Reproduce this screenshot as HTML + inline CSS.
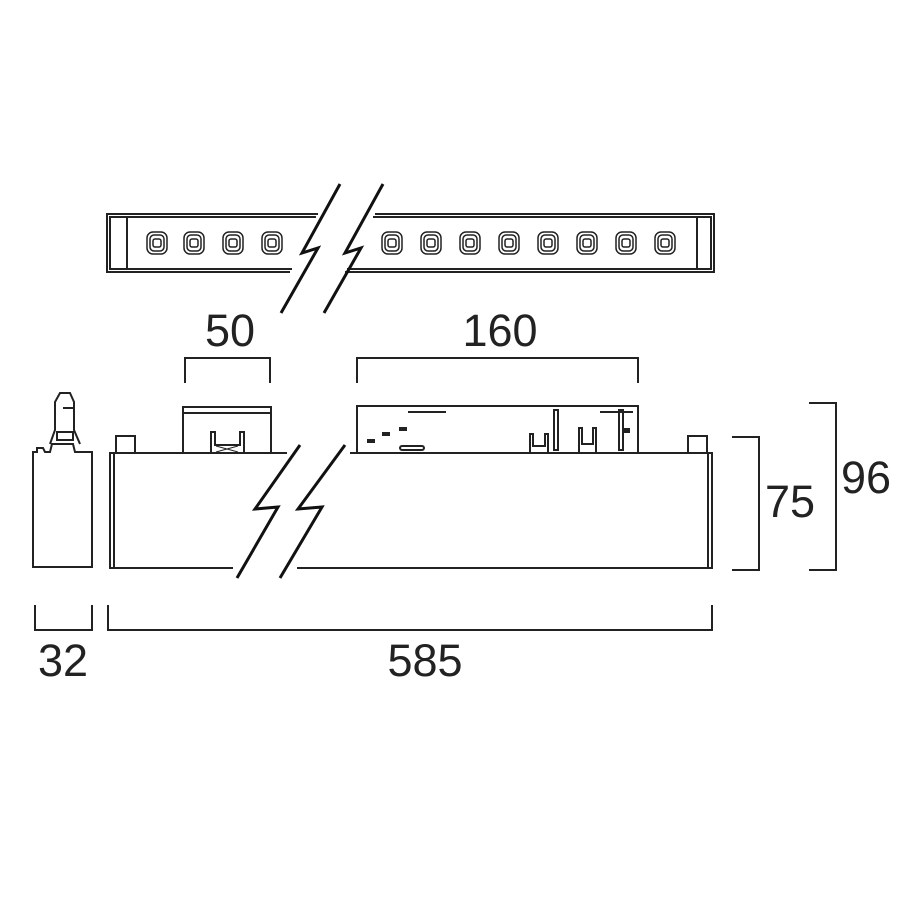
<!DOCTYPE html>
<html><head><style>
html,body{margin:0;padding:0;background:#fff;}
svg{display:block;}
text{font-family:"Liberation Sans",Arial,sans-serif;font-size:45px;fill:#222;}
</style></head><body>
<svg width="900" height="900" viewBox="0 0 900 900" xmlns="http://www.w3.org/2000/svg">
<defs>
<g id="led" fill="none" stroke="#222" stroke-width="1.5">
<rect x="-10" y="-11" width="20" height="22" rx="6"/>
<rect x="-7" y="-8" width="14" height="16" rx="4"/>
<rect x="-4" y="-4" width="8" height="8" rx="2"/>
</g>
</defs>
<g fill="none" stroke="#222" stroke-width="2">
<path d="M318,214 H107 V272 H290"/>
<path d="M316,217 H110 V269 H292"/>
<line x1="127" y1="217" x2="127" y2="269"/>
<path d="M375,214 H714 V272 H345"/>
<path d="M373,217 H711 V269 H347"/>
<line x1="697" y1="217" x2="697" y2="269"/>
</g>
<use href="#led" x="157" y="243"/>
<use href="#led" x="194" y="243"/>
<use href="#led" x="233" y="243"/>
<use href="#led" x="272" y="243"/>
<use href="#led" x="392" y="243"/>
<use href="#led" x="431" y="243"/>
<use href="#led" x="470" y="243"/>
<use href="#led" x="509" y="243"/>
<use href="#led" x="548" y="243"/>
<use href="#led" x="587" y="243"/>
<use href="#led" x="626" y="243"/>
<use href="#led" x="665" y="243"/>
<g fill="none" stroke="#111" stroke-width="3">
<path d="M340,184 L302,253 L318,248 L281,313"/>
<path d="M383,184 L345,253 L361,248 L324,313"/>
<path d="M300,445 L255,509 L278,507 L237,578"/>
<path d="M345,445 L298,509 L322,507 L280,578"/>
</g>
<g fill="none" stroke="#222" stroke-width="2">
<path d="M287,453 H110 V568 H233"/>
<line x1="114" y1="453" x2="114" y2="568"/>
<path d="M350,453 H712 V568 H297"/>
<line x1="708" y1="453" x2="708" y2="568"/>
<rect x="116" y="436" width="19" height="17"/>
<rect x="688" y="436" width="19" height="17"/>
<rect x="183" y="407" width="88" height="46"/>
<line x1="183" y1="413" x2="271" y2="413"/>
<path d="M211,453 V432 H215 V445 H240 V432 H244 V453"/>
<path d="M216,446 L238,452 M216,452 L238,446" stroke-width="1"/>
<path d="M357,453 V406 H638 V453"/>
<line x1="408" y1="412" x2="446" y2="412"/>
<line x1="600" y1="412" x2="633" y2="412"/>
<rect x="554" y="410" width="4" height="40"/>
<rect x="619" y="410" width="4" height="40"/>
<rect x="400" y="446" width="24" height="4" rx="2"/>
<path d="M530,453 V434 H533 V446 H545 V434 H548 V453"/>
<path d="M579,453 V428 H582 V444 H593 V428 H596 V453"/>
<path d="M33,452 V567 H92 V452 H75 L73,444 H52 L50,452 L45,452 L43,448 H37 V452 Z"/>
<path d="M50,444 L55,430 V402 L60,393 H70 L74,402 V430 L80,444"/>
<rect x="57" y="432" width="16" height="8"/>
<line x1="63" y1="408" x2="74" y2="408"/>
<path d="M185,383 V358 H270 V383"/>
<path d="M357,383 V358 H638 V383"/>
<path d="M732,437 H759 V570 H732"/>
<path d="M809,403 H836 V570 H809"/>
<path d="M35,605 V630 H92 V605"/>
<path d="M108,605 V630 H712 V605"/>
</g>
<g fill="#222">
<rect x="367" y="439" width="8" height="4"/>
<rect x="382" y="432" width="8" height="4"/>
<rect x="399" y="427" width="8" height="4"/>
<rect x="624" y="428" width="6" height="5"/>
</g>
<text x="230" y="346" text-anchor="middle">50</text>
<text x="500" y="346" text-anchor="middle">160</text>
<text x="790" y="517" text-anchor="middle">75</text>
<text x="866" y="493" text-anchor="middle">96</text>
<text x="63" y="676" text-anchor="middle">32</text>
<text x="425" y="676" text-anchor="middle">585</text>
</svg>
</body></html>
